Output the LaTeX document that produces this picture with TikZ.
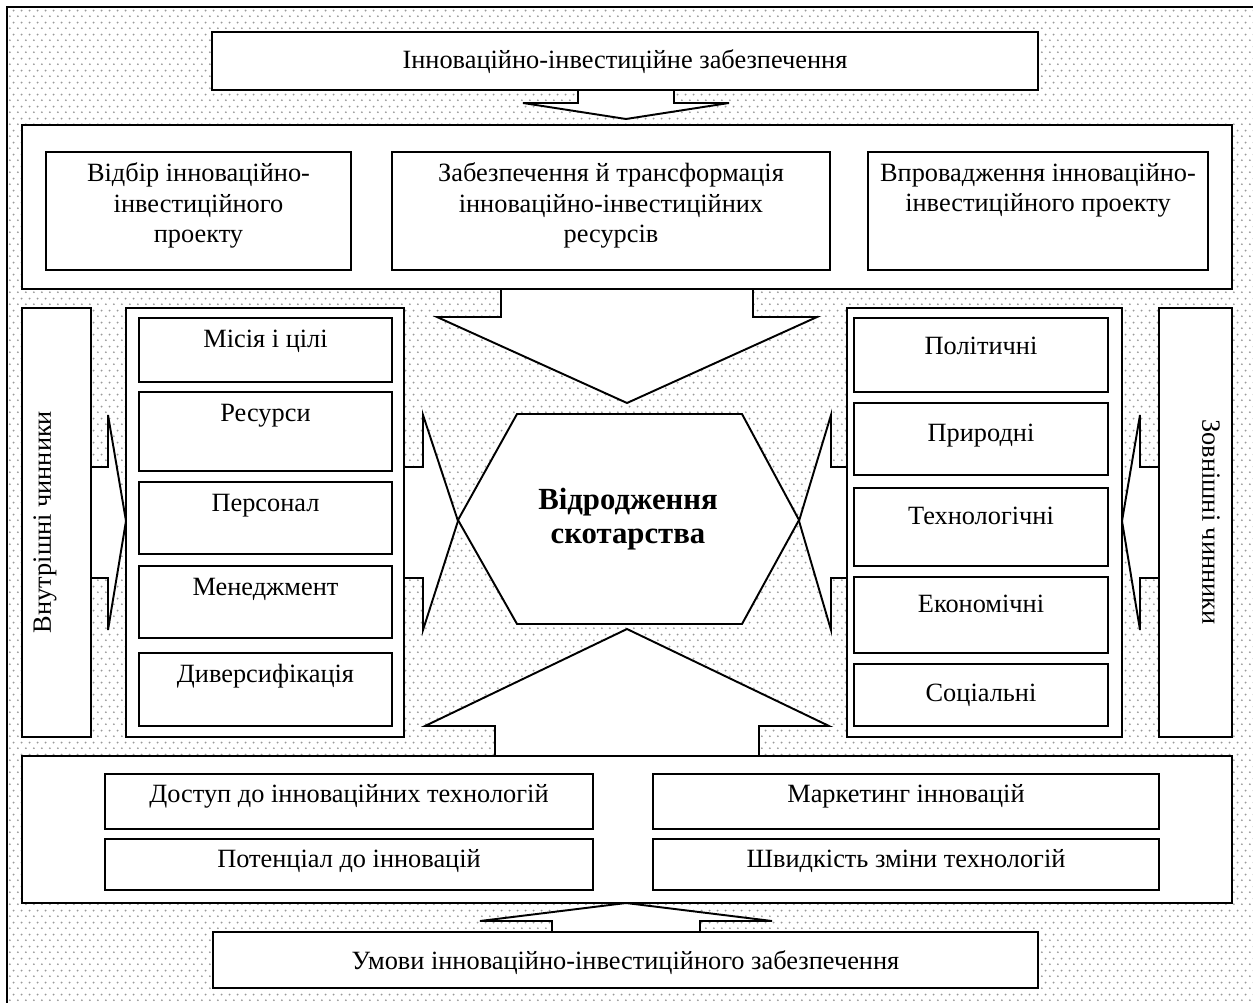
\documentclass[tikz,border=0pt]{standalone}
\usepackage{fontspec}
\setmainfont{Liberation Serif}
\usetikzlibrary{patterns.meta,positioning}
\definecolor{ink}{HTML}{000000}
\definecolor{dotc}{HTML}{9A9A9A}
\tikzdeclarepattern{
  name=spots, type=uncolored,
  bottom left={(0pt,0pt)}, top right={(4.4pt,6.6pt)},
  tile size={(4.4pt,6.6pt)},
  code={
    \fill (1.1pt,1.65pt) circle (0.6pt);
    \fill (3.3pt,4.95pt) circle (0.6pt);
  }
}
\tikzset{
  px/.style 2 args={minimum width=#1*0.02cm, minimum height=#2*0.02cm},
  box/.style={draw=ink, fill=white, line width=1.1pt, anchor=north west, inner sep=0pt, outer sep=0pt},
  blk/.style={draw=ink, fill=white, line width=1.1pt, line join=miter},
  txt/.style={text=ink, font=\fontsize{15}{17.6}\selectfont, align=center, inner sep=0pt, anchor=base},
  hex/.style={text=ink, font=\fontsize{17.5}{19.5}\selectfont\bfseries, align=center, inner sep=0pt},
}

\begin{document}
\begin{tikzpicture}[x=0.02cm, y=-0.02cm]
  \useasboundingbox (0,0) rectangle (1253,1003);
  \clip (0,0) rectangle (1253,1003);
  \fill[pattern=spots, pattern color=dotc] (7,7) rectangle (1270,1020);
  \draw[ink, line width=0.8pt] (7,1020) -- (7,7) -- (1270,7);

  \foreach \c/\s/\h/\ys/\yb/\yt in {626/48/103/80/103/119, 627/126/190/280/317/403,
                                     627/132/202/765/726/629, 626/74/146/940/921/903}
    \draw[blk] (\c-\s,\ys) -- (\c-\s,\yb) -- (\c-\h,\yb) -- (\c,\yt) -- (\c+\h,\yb) -- (\c+\s,\yb) -- (\c+\s,\ys) -- cycle;
  \foreach \xs/\xb/\xt in {80/108/126, 395/423/458, 856/831/799, 1170/1140/1122}
    \draw[blk] (\xs,467) -- (\xb,467) -- (\xb,415) -- (\xt,521) -- (\xb,630) -- (\xb,578) -- (\xs,578) -- cycle;

  \draw[blk] (458,520) -- (517,414) -- (742,414) -- (799,520) -- (742,624) -- (517,624) -- cycle;
  \node[hex] (core) at (628,519) {Відродження\\скотарства};

  \node[box, px={826}{58}] (src) at (212,32) {};
  \node[txt] (src-t) at (625,69) {Інноваційно-інвестиційне забезпечення};

  \node[box, px={1210}{164}] (stage) at (22,125) {};
  \foreach \n/\x/\w/\b/\t in {sel/46/305/243/{Відбір інноваційно-\\інвестиційного\\проекту},
                              prov/392/438/243/{Забезпечення й трансформація\\інноваційно-інвестиційних\\ресурсів},
                              impl/868/340/212/{Впровадження інноваційно-\\інвестиційного проекту}} {
    \node[box, px={\w}{118}] (\n) at (\x,152) {};
    \node[txt] (\n-t) at (\x+\w/2,\b) {\t};
  }

  \node[box, px={69}{429}] (inner) at (22,308) {};
  \node[txt, rotate=90, anchor=center] (inner-t) at (45,522) {Внутрішні чинники};
  \node[box, px={278}{429}] (lcol) at (126,308) {};
  \foreach \n/\y/\h/\t in {mis/318/64/Місія і цілі, res/392/79/Ресурси, per/482/72/Персонал,
                           man/566/72/Менеджмент, div/653/73/Диверсифікація} {
    \node[box, px={253}{\h}] (\n) at (139,\y) {};
    \node[txt] (\n-t) at (265.5,\y+29) {\t};
  }

  \node[box, px={275}{429}] (rcol) at (847,308) {};
  \foreach \n/\y/\h/\b/\t in {pol/318/74/354/Політичні, nat/403/72/441/Природні, tech/488/78/524/Технологічні,
                              eco/577/76/612/Економічні, soc/664/62/701/Соціальні} {
    \node[box, px={254}{\h}] (\n) at (854,\y) {};
    \node[txt] (\n-t) at (981,\b) {\t};
  }
  \node[box, px={73}{429}] (outer) at (1159,308) {};
  \node[txt, rotate=-90, anchor=center] (outer-t) at (1211,522) {Зовнішні чинники};

  \node[box, px={1210}{147}] (cond) at (22,756) {};
  \foreach \n/\x/\w/\y/\h/\t in {acc/105/488/774/55/Доступ до інноваційних технологій,
                                 pot/105/488/839/51/Потенціал до інновацій,
                                 mkt/653/506/774/55/Маркетинг інновацій,
                                 spd/653/506/839/51/Швидкість зміни технологій} {
    \node[box, px={\w}{\h}] (\n) at (\x,\y) {};
    \node[txt] (\n-t) at (\x+\w/2,\y+28) {\t};
  }

  \node[box, px={825}{56}] (terms) at (213,932) {};
  \node[txt] (terms-t) at (625.5,969) {Умови інноваційно-інвестиційного забезпечення};
\end{tikzpicture}
\end{document}
